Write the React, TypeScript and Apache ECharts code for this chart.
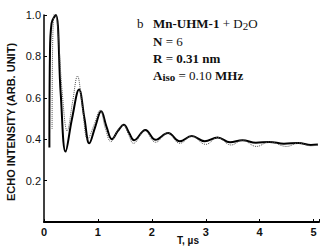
import React, { useEffect, useRef } from "react";
import * as echarts from "echarts";

const solidT = [0.10, 0.11, 0.14, 0.22, 0.31, 0.40, 0.52, 0.65, 0.75, 0.84, 0.95, 1.06, 1.16, 1.26, 1.37, 1.48, 1.58, 1.67, 1.88, 2.07, 2.30, 2.52, 2.74, 2.98, 3.22, 3.45, 3.68, 3.93, 4.18, 4.45, 4.72, 4.95, 5.08];
const solidV = [0.36, 0.80, 0.96, 1.00, 0.62, 0.34, 0.50, 0.64, 0.50, 0.38, 0.46, 0.535, 0.46, 0.40, 0.44, 0.47, 0.43, 0.395, 0.445, 0.397, 0.43, 0.39, 0.415, 0.39, 0.408, 0.385, 0.395, 0.383, 0.387, 0.378, 0.382, 0.372, 0.374];

// Dotted curve (simulation)
const dottedT = [0.15, 0.16, 0.20, 0.25, 0.34, 0.43, 0.53, 0.62, 0.71, 0.81, 0.93, 1.04, 1.14, 1.24, 1.36, 1.47, 1.57, 1.66, 1.87, 2.07, 2.29, 2.52, 2.74, 3.00, 3.22, 3.47, 3.68, 3.94, 4.18, 4.50, 4.72, 4.95, 5.08];
const dottedV = [0.45, 0.85, 1.02, 0.95, 0.62, 0.44, 0.58, 0.705, 0.56, 0.40, 0.47, 0.54, 0.45, 0.388, 0.44, 0.47, 0.42, 0.38, 0.44, 0.385, 0.43, 0.38, 0.415, 0.375, 0.408, 0.372, 0.395, 0.365, 0.387, 0.365, 0.382, 0.368, 0.372];

const xTicks = [0, 1, 2, 3, 4, 5];
const yTicks = [0.2, 0.4, 0.6, 0.8, 1.0];

const yName = "ECHO INTENSITY (ARB. UNIT)";
const xName = "T, µs";

export default function App() {
  const ref = useRef<HTMLDivElement>(null);
  useEffect(() => {
    if (!ref.current) return;
    const chart = echarts.init(ref.current, undefined, { renderer: "svg" });
    const solid = solidT.map((t, i) => [t, solidV[i]]);
    const dotted = dottedT.map((t, i) => [t, dottedV[i]]);
    const serif = "'Liberation Serif', 'Times New Roman', serif";
    chart.setOption({
      animation: false,
      backgroundColor: "#fff",
      grid: { left: 44, right: 12, top: 15, bottom: 28 },
      xAxis: {
        type: "value",
        min: 0,
        max: 5.1,
        interval: 1,
        axisLine: { show: true, lineStyle: { color: "#000", width: 2 } },
        axisTick: { show: true, inside: true, length: 3, lineStyle: { color: "#000", width: 1 } },
        splitLine: { show: false },
        axisLabel: {
          margin: 4,
          color: "#111",
          fontFamily: "'Liberation Sans', Arial, sans-serif",
          fontSize: 11,
          fontWeight: "bold",
          formatter: (v: number) => (xTicks.includes(v) ? String(v) : ""),
        },
      },
      yAxis: {
        type: "value",
        min: 0,
        max: 1.0,
        interval: 0.2,
        axisLine: { show: true, lineStyle: { color: "#000", width: 1.5 } },
        axisTick: { show: true, inside: true, length: 3, lineStyle: { color: "#000", width: 1 } },
        splitLine: { show: false },
        axisLabel: {
          margin: 3,
          color: "#111",
          fontFamily: "'Liberation Sans', Arial, sans-serif",
          fontSize: 11,
          formatter: (v: number) => {
            const m = yTicks.find((t) => Math.abs(t - v) < 1e-6);
            return m !== undefined ? m.toFixed(1) : "";
          },
        },
      },
      graphic: [
        {
          type: "text",
          x: 11,
          y: 122,
          rotation: Math.PI / 2,
          style: {
            text: yName,
            fill: "#111",
            font: "bold 11px 'Liberation Sans', Arial, sans-serif",
            textAlign: "center",
            textVerticalAlign: "middle",
          },
        },
        {
          type: "text",
          x: 188,
          y: 240,
          style: {
            text: xName,
            fill: "#111",
            font: "bold 10px 'Liberation Sans', Arial, sans-serif",
            textAlign: "center",
            textVerticalAlign: "middle",
          },
        },
        {
          type: "text",
          x: 137,
          y: 23,
          style: { text: "b", fill: "#111", font: `13px ${serif}`, textVerticalAlign: "middle" },
        },
        {
          type: "text",
          x: 153,
          y: 23,
          style: {
            text: "{b|Mn-UHM-1} + D{s|2}O",
            fill: "#111",
            font: `13px ${serif}`,
            textVerticalAlign: "middle",
            rich: {
              b: { fontWeight: "bold", fontSize: 13, fontFamily: serif },
              s: { fontSize: 11, fontFamily: serif, padding: [5, 0, 0, 0] },
            },
          },
        },
        {
          type: "text",
          x: 153,
          y: 41,
          style: {
            text: "{b|N} = 6",
            fill: "#111",
            font: `13px ${serif}`,
            textVerticalAlign: "middle",
            rich: { b: { fontWeight: "bold", fontSize: 13, fontFamily: serif } },
          },
        },
        {
          type: "text",
          x: 153,
          y: 58,
          style: {
            text: "{b|R} = {b|0.31 nm}",
            fill: "#111",
            font: `13px ${serif}`,
            textVerticalAlign: "middle",
            rich: { b: { fontWeight: "bold", fontSize: 13, fontFamily: serif } },
          },
        },
        {
          type: "text",
          x: 153,
          y: 75,
          style: {
            text: "{b|A}{s|iso} = 0.10 {b|MHz}",
            fill: "#111",
            font: `13px ${serif}`,
            textVerticalAlign: "middle",
            rich: {
              b: { fontWeight: "bold", fontSize: 13, fontFamily: serif },
              s: { fontWeight: "bold", fontSize: 11, fontFamily: serif, padding: [4, 0, 0, 0] },
            },
          },
        },
      ],
      series: [
        {
          type: "line",
          data: solid,
          showSymbol: false,
          smooth: 0.4,
          lineStyle: { color: "#000", width: 2 },
          z: 2,
        },
        {
          type: "line",
          data: dotted,
          showSymbol: false,
          smooth: 0.4,
          lineStyle: { color: "#555", width: 1, type: "dotted" },
          z: 3,
        },
      ],
    });
    return () => chart.dispose();
  }, []);
  return (
    <div
      ref={ref}
      style={{ position: "fixed", left: 0, top: 0, width: 331, height: 250, background: "#fff" }}
    />
  );
}
